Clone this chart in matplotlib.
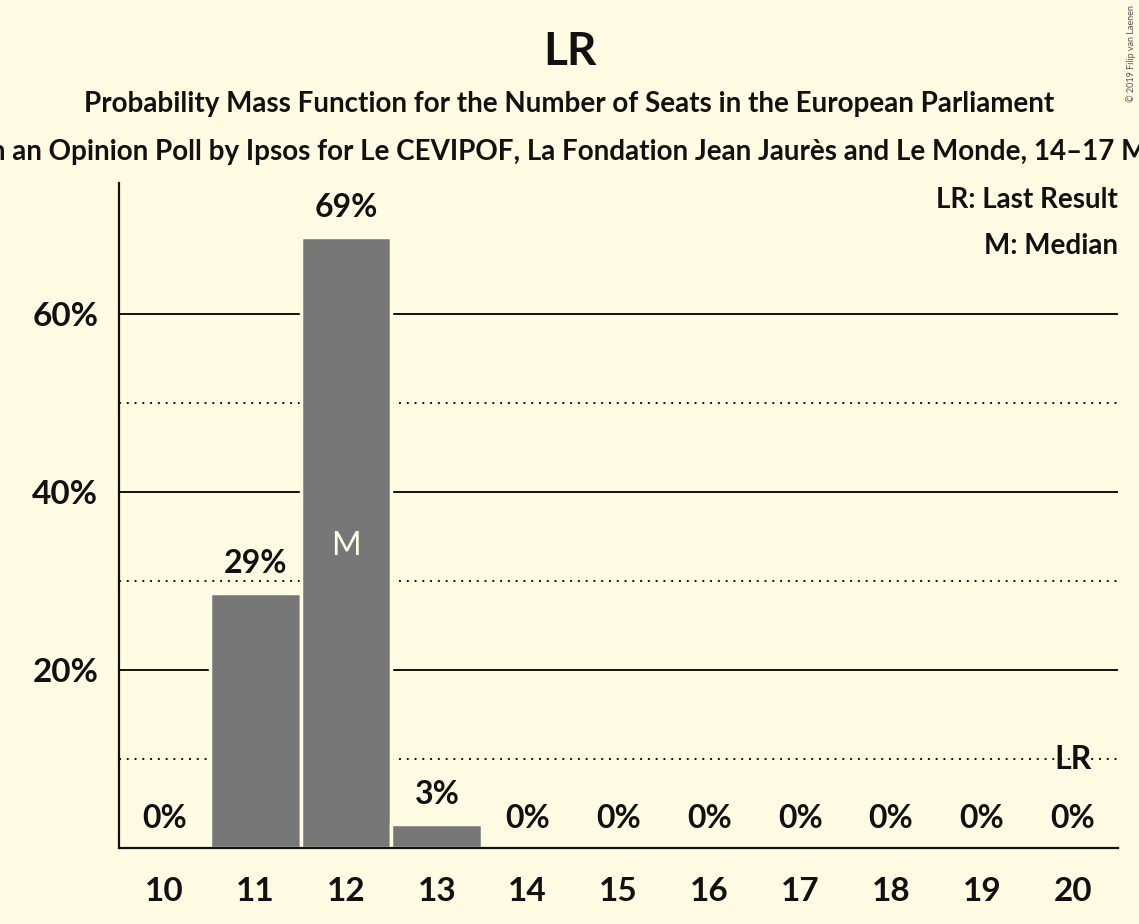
import matplotlib
matplotlib.use("Agg")
import matplotlib.pyplot as plt

# Data
seats = [10, 11, 12, 13, 14, 15, 16, 17, 18, 19, 20]
probabilities = [0, 28.6, 68.6, 2.7, 0, 0, 0, 0, 0, 0, 0]
median_seat = 12
last_result_seat = 20

title = "LR"
subtitle = "Probability Mass Function for the Number of Seats in the European Parliament"
source = ("Based on an Opinion Poll by Ipsos for Le CEVIPOF, La Fondation Jean Jaurès "
          "and Le Monde, 14–17 May 2019")

bg = "#FFFCE3"
bar_color = "#777777"
ink = "#111111"

plt.rcParams['font.family'] = ['Lato', 'DejaVu Sans']

fig = plt.figure(figsize=(11.39, 9.24), dpi=100, facecolor=bg)
ax = fig.add_axes([119 / 1139, 1 - 848 / 924, (1118 - 119) / 1139, (848 - 183) / 924])
ax.set_facecolor(bg)

# Grid lines (solid at 20/40/60, dotted in between)
for y in [20, 40, 60]:
    ax.axhline(y, color=ink, lw=1.4, zorder=1)
for y in [10, 30, 50]:
    ax.axhline(y, color=ink, lw=1.4, ls=(0, (1, 3)), zorder=1)

bars = ax.bar(seats, probabilities, width=1.0, color=bar_color,
              edgecolor=bg, linewidth=2.5, zorder=2)

# Value labels above bars
for x, p in zip(seats, probabilities):
    ax.annotate(f"{p:.0f}%", (x, p), xytext=(0, 11), textcoords="offset points",
                ha="center", va="bottom", fontsize=23, fontweight="bold", color=ink)

# Median marker inside the bar
med_h = probabilities[seats.index(median_seat)]
ax.text(median_seat, med_h / 2, "M", ha="center", va="center_baseline",
        fontsize=23, color=bg)

# Last result marker
lr_h = probabilities[seats.index(last_result_seat)]
ax.annotate("LR", (last_result_seat, lr_h), xytext=(0, 53), textcoords="offset points",
            ha="center", va="bottom", fontsize=23, fontweight="bold", color=ink)

ax.set_xlim(9.5, 20.5)
ax.set_ylim(0, 74.7)
ax.set_xticks(seats)
ax.set_xticklabels([str(s) for s in seats])
ax.set_yticks([20, 40, 60])
ax.set_yticklabels(["20%", "40%", "60%"])
ax.tick_params(axis="both", length=0, labelsize=24, colors=ink)
ax.tick_params(axis="x", pad=21)
ax.tick_params(axis="y", pad=15)
for lab in ax.get_xticklabels() + ax.get_yticklabels():
    lab.set_fontweight("bold")

for side in ["top", "right"]:
    ax.spines[side].set_visible(False)
for side in ["left", "bottom"]:
    ax.spines[side].set_color(ink)
    ax.spines[side].set_linewidth(1.6)
    ax.spines[side].set_zorder(3)

# Legend text in the top right corner
ax.text(1.0, 0.975, "LR: Last Result", transform=ax.transAxes, ha="right", va="center",
        fontsize=20, fontweight="bold", color=ink)
ax.text(1.0, 0.905, "M: Median", transform=ax.transAxes, ha="right", va="center",
        fontsize=20, fontweight="bold", color=ink)

# Titles
fig.text(0.5, 1 - 52 / 924, title, ha="center", va="center",
         fontsize=33, fontweight="bold", color=ink)
fig.text(0.5, 1 - 104 / 924, subtitle, ha="center", va="center",
         fontsize=20, fontweight="bold", color=ink)
fig.text(0.5, 1 - 152 / 924, source, ha="center", va="center",
         fontsize=20, fontweight="bold", color=ink)

fig.text(1131 / 1139, 1 - 5 / 924, "© 2019 Filip van Laenen", rotation=90,
         ha="center", va="top", fontsize=6.5, color="#555555")

fig.savefig("out.png", dpi=100, facecolor=bg)
